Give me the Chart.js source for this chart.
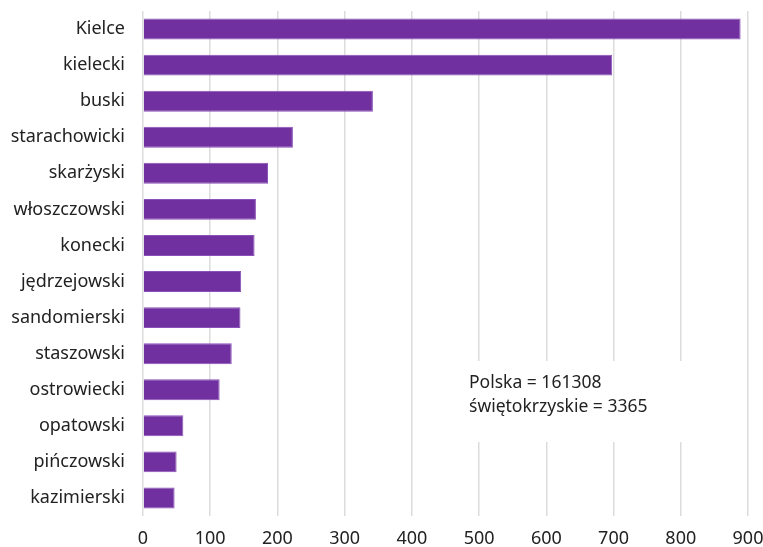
<!DOCTYPE html>
<html><head><meta charset="utf-8">
<script src="https://cdn.jsdelivr.net/npm/chart.js@4"></script>
<style>html,body{margin:0;padding:0;background:#fff;overflow:hidden}</style>
</head><body><canvas id="c" width="763" height="547" style="width:763px;height:547px;display:block"></canvas>
<script>
const categories = ["Kielce","kielecki","buski","starachowicki","skarżyski","włoszczowski","konecki","jędrzejowski","sandomierski","staszowski","ostrowiecki","opatowski","pińczowski","kazimierski"];
const values = [889, 698, 342, 223, 186, 168, 166, 146, 145, 132, 114, 60, 50, 47];
const xTicks = [0,100,200,300,400,500,600,700,800,900];
const noteLines = ["Polska = 161308", "świętokrzyskie = 3365"];

const FONT = "'Noto Sans', 'Open Sans', sans-serif";
const notePlugin = {
  id: 'note',
  beforeDatasetsDraw(chart) {
    const {ctx, scales} = chart;
    const x = scales.x.getPixelForValue(485);
    ctx.save();
    ctx.fillStyle = '#fff';
    ctx.fillRect(x - 20, 361, 250, 81);
    ctx.fillStyle = '#222';
    ctx.font = "17.5px " + FONT;
    ctx.textBaseline = 'middle';
    ctx.textAlign = 'left';
    noteLines.forEach((t, i) => ctx.fillText(t, x, 383 + i * 24));
    ctx.restore();
  }
};

new Chart(document.getElementById('c'), {
  type: 'bar',
  data: { labels: categories, datasets: [{ data: values, backgroundColor: '#7030a0', borderColor: '#8a52b8', borderWidth: 1, barPercentage: 0.58, categoryPercentage: 1 }] },
  options: {
    indexAxis: 'y', responsive: false, animation: false, devicePixelRatio: 1,
    layout: { padding: { top: 11, right: 15, bottom: 0, left: 0 } },
    plugins: { legend: { display: false }, tooltip: { enabled: false } },
    scales: {
      x: { min: 0, max: 900, afterBuildTicks: a => { a.ticks = xTicks.map(v => ({value: v})); },
           afterFit(s) { s.paddingLeft = 0; s.paddingRight = 0; s.height = 31; },
           grid: { color: '#dcdcdc', lineWidth: 1.5, drawTicks: false }, border: { display: false },
           ticks: { color: '#222', font: { size: 18, family: FONT }, padding: 12 } },
      y: { grid: { display: false, drawTicks: false }, border: { display: false },
           afterFit(s) { s.paddingTop = 0; s.paddingBottom = 0; s.width = 143; },
           ticks: { color: '#222', font: { size: 18, family: FONT }, padding: 18 } }
    }
  },
  plugins: [notePlugin]
});
</script></body></html>
